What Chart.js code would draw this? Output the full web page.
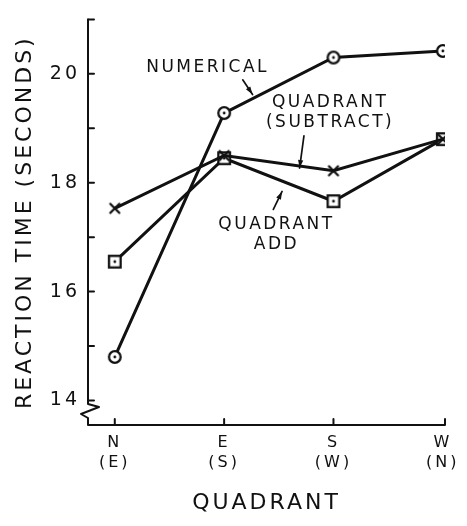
<!DOCTYPE html>
<html>
<head>
<meta charset="utf-8">
<script src="https://cdn.jsdelivr.net/npm/chart.js@4.4.0/dist/chart.umd.min.js"></script>
<style>
  html, body { margin: 0; padding: 0; background: #fff; }
  #wrap { width: 467px; height: 526px; }
</style>
</head>
<body>
<div id="wrap"><canvas id="rtChart" width="467" height="526"></canvas></div>
<script>
// data
const quadrants = ["N", "E", "S", "W"];
const oppositeQuadrants = ["(E)", "(S)", "(W)", "(N)"];
const numerical = [14.8, 19.28, 20.3, 20.42];
const quadrantSubtract = [17.53, 18.5, 18.22, 18.8];
const quadrantAdd = [16.55, 18.45, 17.66, 18.8];
const yTickLabels = [14, 16, 18, 20];
const yMinorTicks = [14, 15, 16, 17, 18, 19, 20, 21];

// curve labels with their arrows, in data units
const notes = [
    { text: ["NUMERICAL"], at: [0.84, 20.11], arrow: [[1.17, 19.89], [1.26, 19.62]] },
    { text: ["QUADRANT", "(SUBTRACT)"], at: [1.96, 19.28], arrow: [[1.73, 18.86], [1.69, 18.27]] },
    { text: ["QUADRANT", "ADD"], at: [1.47, 17.04], arrow: [[1.45, 17.51], [1.53, 17.84]] },
];

const INK = "#111";

function makeMarker(kind) {
    const c = document.createElement("canvas");
    c.width = 18;
    c.height = 18;
    const g = c.getContext("2d");
    g.strokeStyle = INK;
    g.fillStyle = "#fff";
    g.lineWidth = 2.3;
    if (kind === "circle") {
        g.beginPath();
        g.arc(9, 9, 5.8, 0, Math.PI * 2);
        g.fill();
        g.stroke();
    } else if (kind === "square") {
        g.fillRect(3.2, 3.2, 11.6, 11.6);
        g.strokeRect(3.2, 3.2, 11.6, 11.6);
    } else {
        g.lineCap = "round";
        g.beginPath();
        g.moveTo(4.5, 4.5);
        g.lineTo(13.5, 13.5);
        g.moveTo(13.5, 4.5);
        g.lineTo(4.5, 13.5);
        g.stroke();
    }
    if (kind !== "cross") {
        g.fillStyle = INK;
        g.beginPath();
        g.arc(9, 9, 1.4, 0, Math.PI * 2);
        g.fill();
    }
    return c;
}

const toPoints = (arr) => arr.map((v, i) => ({ x: i, y: v }));

function series(values, marker) {
    return {
        data: toPoints(values),
        borderColor: INK,
        borderWidth: 3,
        pointStyle: makeMarker(marker),
        pointRadius: 6,
        tension: 0,
        fill: false,
    };
}

const axesPlugin = {
    id: "axesAndNotes",
    beforeDraw(chart) {
        chart.ctx.letterSpacing = "3px";
    },
    afterDraw(chart) {
        const { ctx, chartArea: a, scales: { x, y } } = chart;
        ctx.save();
        ctx.letterSpacing = "0px";
        ctx.strokeStyle = INK;
        ctx.fillStyle = INK;
        ctx.lineWidth = 2;
        ctx.lineCap = "round";
        ctx.lineJoin = "round";

        // axis lines with the break on the y axis
        const yb = a.bottom;
        ctx.beginPath();
        ctx.moveTo(a.left, a.top);
        ctx.lineTo(a.left, yb - 21);
        ctx.lineTo(a.left + 11, yb - 18);
        ctx.lineTo(a.left - 7, yb - 11);
        ctx.lineTo(a.left, yb - 7);
        ctx.lineTo(a.left, yb);
        ctx.lineTo(a.right, yb);
        ctx.lineTo(a.right, yb - 6);
        ctx.stroke();

        // inward ticks
        ctx.beginPath();
        yMinorTicks.forEach((v) => {
            const py = y.getPixelForValue(v);
            ctx.moveTo(a.left, py);
            ctx.lineTo(a.left + 6, py);
        });
        quadrants.slice(0, -1).forEach((_, i) => {
            const px = x.getPixelForValue(i);
            ctx.moveTo(px, yb);
            ctx.lineTo(px, yb - 6);
        });
        ctx.stroke();

        // curve labels
        ctx.font = "17px 'DejaVu Sans'";
        ctx.letterSpacing = "2.5px";
        ctx.textAlign = "center";
        ctx.textBaseline = "middle";
        notes.forEach((n) => {
            const cx = x.getPixelForValue(n.at[0]) + 1;
            const cy = y.getPixelForValue(n.at[1]);
            const lh = 20;
            n.text.forEach((line, k) => {
                ctx.fillText(line, cx, cy + (k - (n.text.length - 1) / 2) * lh);
            });
            const x0 = x.getPixelForValue(n.arrow[0][0]);
            const y0 = y.getPixelForValue(n.arrow[0][1]);
            const x1 = x.getPixelForValue(n.arrow[1][0]);
            const y1 = y.getPixelForValue(n.arrow[1][1]);
            ctx.lineWidth = 1.7;
            ctx.beginPath();
            ctx.moveTo(x0, y0);
            ctx.lineTo(x1, y1);
            ctx.stroke();
            const ang = Math.atan2(y1 - y0, x1 - x0);
            ctx.beginPath();
            ctx.moveTo(x1, y1);
            ctx.lineTo(x1 - 8 * Math.cos(ang) + 2.6 * Math.sin(ang), y1 - 8 * Math.sin(ang) - 2.6 * Math.cos(ang));
            ctx.lineTo(x1 - 8 * Math.cos(ang) - 2.6 * Math.sin(ang), y1 - 8 * Math.sin(ang) + 2.6 * Math.cos(ang));
            ctx.closePath();
            ctx.fill();
        });
        ctx.restore();
    },
};

new Chart(document.getElementById("rtChart"), {
    type: "line",
    data: {
        datasets: [
            series(quadrantSubtract, "cross"),
            series(quadrantAdd, "square"),
            series(numerical, "circle"),
        ],
    },
    options: {
        responsive: false,
        animation: false,
        devicePixelRatio: 1,
        layout: { padding: { top: 12, right: 22, left: 0, bottom: 0 } },
        plugins: { legend: { display: false }, tooltip: { enabled: false } },
        scales: {
            x: {
                type: "linear",
                min: -0.245,
                max: 3.02,
                grid: { display: false, drawTicks: false },
                border: { display: false },
                afterBuildTicks: (s) => {
                    s.ticks = quadrants.map((_, i) => ({ value: i }));
                },
                afterFit: (s) => {
                    s.height = 101;
                },
                ticks: {
                    autoSkip: false,
                    maxRotation: 0,
                    padding: 8,
                    color: INK,
                    font: { family: "'DejaVu Sans'", size: 16, lineHeight: 1.25 },
                    callback: (v) => [quadrants[v], oppositeQuadrants[v]],
                },
                title: {
                    display: true,
                    text: "QUADRANT",
                    color: INK,
                    font: { family: "'DejaVu Sans'", size: 22, lineHeight: 1.2 },
                    padding: { top: 0, bottom: 10 },
                },
            },
            y: {
                min: 13.55,
                max: 21,
                grid: { display: false, drawTicks: false },
                border: { display: false },
                afterBuildTicks: (s) => {
                    s.ticks = yTickLabels.map((v) => ({ value: v }));
                },
                afterFit: (s) => {
                    s.width = 88;
                },
                ticks: {
                    padding: 8,
                    color: INK,
                    font: { family: "'DejaVu Sans'", size: 19 },
                    callback: (v) => String(v),
                },
                title: {
                    display: true,
                    text: "REACTION TIME (SECONDS)",
                    color: INK,
                    font: { family: "'DejaVu Sans'", size: 22, lineHeight: 1.2 },
                    padding: { top: 12, bottom: 0 },
                },
            },
        },
    },
    plugins: [axesPlugin],
});
</script>
</body>
</html>
